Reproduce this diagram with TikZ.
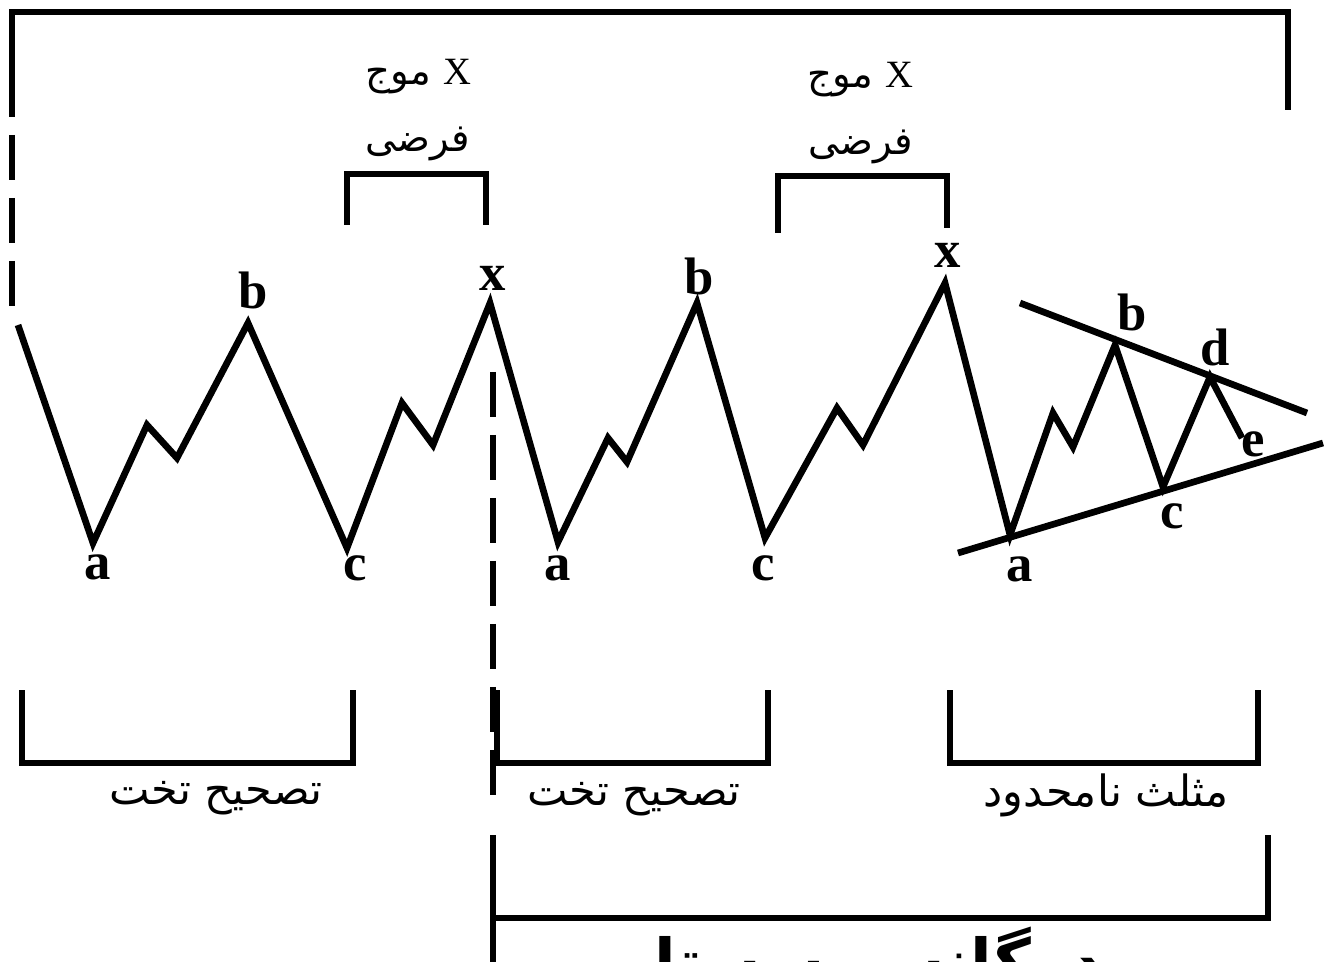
\documentclass[tikz,border=0pt]{standalone}
\usepackage{fontspec}
\setmainfont{Liberation Serif}
\newfontfamily\arabicfont[Script=Arabic]{DejaVu Sans}
\TeXXeTstate=1
\usetikzlibrary{calc}

\begin{document}
\begin{tikzpicture}[x=0.02cm, y=-0.02cm,
        wave/.style={line width=3.8pt, line join=miter},
        bracket/.style={line width=3.6pt},
        dashline/.style={line width=3.6pt, dash pattern=on 0.9cm off 0.36cm},
        ptlabel/.style={font=\fontsize{30}{30}\selectfont\bfseries, inner sep=0pt},
        fatext/.style={font=\fontsize{22}{26}\selectfont\arabicfont, inner sep=0pt, anchor=base},
        fabig/.style={font=\fontsize{24.5}{28}\selectfont\arabicfont, inner sep=0pt, anchor=base},
        fatitle/.style={font=\fontsize{36}{40}\selectfont\arabicfont\bfseries, inner sep=0pt, anchor=base}]

  \useasboundingbox (0,0) rectangle (1325,962);

  % Wave points
  \coordinate (w0) at (18,325);
  \coordinate (a1) at (93,543);   \coordinate (p1) at (147,425);
  \coordinate (q1) at (177,458);  \coordinate (b1) at (248,323);
  \coordinate (c1) at (347,548);  \coordinate (r1) at (402,403);
  \coordinate (s1) at (433,445);  \coordinate (x1) at (490,303);
  \coordinate (a2) at (558,542);  \coordinate (p2) at (608,438);
  \coordinate (q2) at (627,462);  \coordinate (b2) at (697,303);
  \coordinate (c2) at (765,538);  \coordinate (r2) at (837,408);
  \coordinate (s2) at (863,445);  \coordinate (x2) at (945,283);
  \coordinate (a3) at (1010,535); \coordinate (p3) at (1053,413);
  \coordinate (q3) at (1073,447); \coordinate (b3) at (1115,345);
  \coordinate (c3) at (1163,487); \coordinate (d3) at (1210,377);
  \coordinate (e3) at (1242,438);

  \draw[wave] (w0) -- (a1) -- (p1) -- (q1) -- (b1) -- (c1) -- (r1) -- (s1) -- (x1)
    -- (a2) -- (p2) -- (q2) -- (b2) -- (c2) -- (r2) -- (s2) -- (x2)
    -- (a3) -- (p3) -- (q3) -- (b3) -- (c3) -- (d3) -- (e3);

  % Triangle trendlines
  \coordinate (up1) at (1020,303);  \coordinate (up2) at (1307,413);
  \coordinate (lo1) at (958,553);   \coordinate (lo2) at (1323,443);
  \draw[wave] (up1) -- (up2);
  \draw[wave] (lo1) -- (lo2);

  % Point labels
  \node[ptlabel] (la1) at (98,567)   {a};
  \node[ptlabel] (lb1) at (253,290)  {b};
  \node[ptlabel] (lc1) at (355,568)  {c};
  \node[ptlabel] (lx1) at (493,278)  {x};
  \node[ptlabel] (la2) at (558,568)  {a};
  \node[ptlabel] (lb2) at (699,276)  {b};
  \node[ptlabel] (lc2) at (763,568)  {c};
  \node[ptlabel] (lx2) at (948,255)  {x};
  \node[ptlabel] (la3) at (1020,569) {a};
  \node[ptlabel] (lb3) at (1132,312) {b};
  \node[ptlabel] (lc3) at (1172,516) {c};
  \node[ptlabel] (ld3) at (1215,347) {d};
  \node[ptlabel] (le3) at (1253,444) {e};

  % Top bracket
  \draw[bracket] (12,117) -- (12,12) -- (1288,12) -- (1288,110);
  \draw[dashline] (12,135) -- (12,310);

  % X wave brackets
  \draw[bracket] (347,225) -- (347,174) -- (486,174) -- (486,225);
  \draw[bracket] (778,233) -- (778,176) -- (947,176) -- (947,228);
  \node[fatext] (xw1) at (418,85)  {\beginR{\rmfamily X} موج\endR};
  \node[fatext] (xf1) at (418,152) {\beginR فرضی\endR};
  \node[fatext] (xw2) at (860,88)  {\beginR{\rmfamily X} موج\endR};
  \node[fatext] (xf2) at (861,155) {\beginR فرضی\endR};

  % Lower brackets
  \draw[bracket] (22,690) -- (22,763) -- (353,763) -- (353,690);
  \draw[bracket] (497,690) -- (497,763) -- (768,763) -- (768,690);
  \draw[bracket] (950,690) -- (950,763) -- (1258,763) -- (1258,690);
  \node[fabig] (flat1) at (216,804)  {\beginR تصحیح تخت\endR};
  \node[fabig] (flat2) at (634,805)  {\beginR تصحیح تخت\endR};
  \node[fabig] (tri)   at (1106,806) {\beginR مثلث نامحدود\endR};

  % Bottom bracket
  \draw[dashline] (493,372) -- (493,800);
  \draw[bracket] (493,835) -- (493,962);
  \draw[bracket] (493,918) -- (1268,918) -- (1268,835);
  \node[fatitle] (combo) at (835,984) {\beginR دوگانه و سه تایی\endR};
\end{tikzpicture}
\end{document}
